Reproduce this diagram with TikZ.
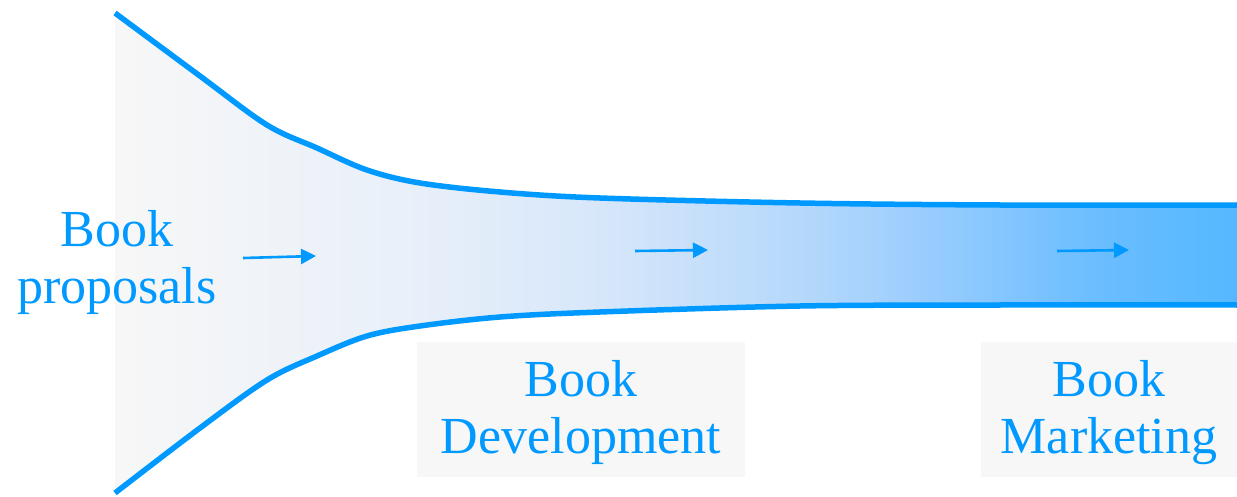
\documentclass[tikz,border=0pt]{standalone}
\usepackage{fontspec}
\setmainfont{Liberation Serif}
\usetikzlibrary{arrows.meta}
\definecolor{fblue}{HTML}{0099FF}
\definecolor{boxgray}{HTML}{F7F7F7}
\definecolor{s0}{HTML}{F7F7F7}
\definecolor{s1}{HTML}{E9F0F9}
\definecolor{s2}{HTML}{D7E7FA}
\definecolor{s3}{HTML}{B5D8FB}
\definecolor{s4}{HTML}{A0CFFD}
\definecolor{s5}{HTML}{85C6FF}
\definecolor{s6}{HTML}{6ABDFF}
\definecolor{s7}{HTML}{55B8FF}
\pgfdeclarehorizontalshading{funnelshade}{100bp}{color(0bp)=(s0); color(25bp)=(s0); color(37.7bp)=(s1); color(46.6bp)=(s2); color(55.5bp)=(s3); color(60bp)=(s4); color(64.4bp)=(s5); color(68.9bp)=(s6); color(75bp)=(s7); color(100bp)=(s7)}
\tikzset{
  lbl/.style={text=fblue, font=\fontsize{52}{57}\selectfont, align=center, inner sep=0pt},
  stagebox/.style={fill=boxgray, inner sep=0pt, minimum height=135pt},
  edge/.style={draw=fblue, line width=5.5pt},
  flowarrow/.style={draw=fblue, line width=2.6pt, -{Triangle[length=15pt,width=15pt]}}
}
\begin{document}
\begin{tikzpicture}[x=1pt,y=-1pt]
\useasboundingbox (0,0) rectangle (1237,497);
% funnel fill
\shade[shading=funnelshade]
  plot[smooth,tension=0.55] coordinates {(115,13) (200,76) (267,125) (317,148) (367,170) (420,183) (500,192) (600,198) (800,203) (1000,205) (1237,205)}
  -- (1237,305)
  -- plot[smooth,tension=0.55] coordinates {(1237,305) (1000,305) (800,306) (600,312) (500,317) (420,326) (367,336) (317,356) (267,380) (200,428) (115,493)}
  -- cycle;
% funnel edges
\draw[edge] plot[smooth,tension=0.55] coordinates {(115,13) (200,76) (267,125) (317,148) (367,170) (420,183) (500,192) (600,198) (800,203) (1000,205) (1237,205)};
\draw[edge] plot[smooth,tension=0.55] coordinates {(115,493) (200,428) (267,380) (317,356) (367,336) (420,326) (500,317) (600,312) (800,306) (1000,305) (1237,305)};
% labels
\node[lbl] (prop) at (117,262) {Book\\proposals};
\node[stagebox, minimum width=328pt] (devbox) at (581,409.5) {};
\node[stagebox, minimum width=256pt] (mktbox) at (1109,409.5) {};
\node[lbl] (dev) at ([yshift=-3pt]devbox.center) {Book\\Development};
\node[lbl] (mkt) at ([yshift=-3pt]mktbox.center) {Book\\Marketing};
% arrows
\coordinate (a1s) at (243,258); \coordinate (a1e) at (316,256);
\coordinate (a2s) at (635,251); \coordinate (a2e) at (708,250);
\coordinate (a3s) at (1057,251); \coordinate (a3e) at (1129,250);
\draw[flowarrow] (a1s) -- (a1e);
\draw[flowarrow] (a2s) -- (a2e);
\draw[flowarrow] (a3s) -- (a3e);
\end{tikzpicture}
\end{document}
